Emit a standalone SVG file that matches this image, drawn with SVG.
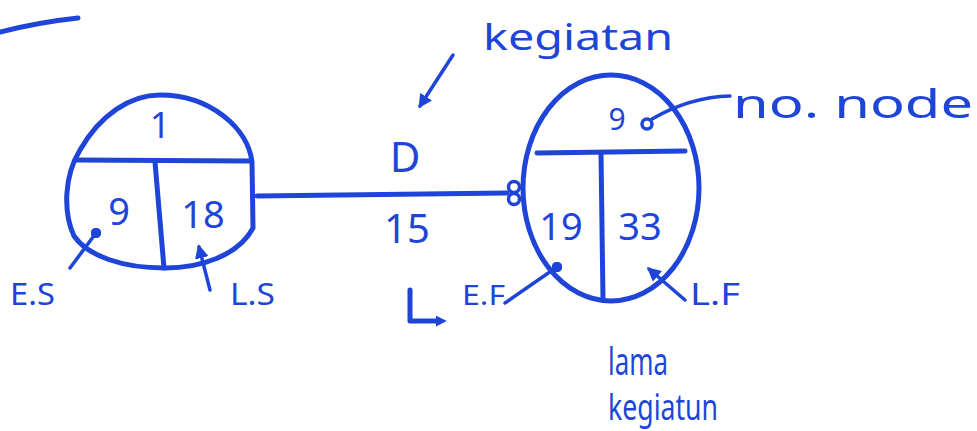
<svg xmlns="http://www.w3.org/2000/svg" width="977" height="431" viewBox="0 0 977 431">
<style>
.ln{fill:none;stroke:#1f45d8;stroke-width:5;stroke-linecap:round;stroke-linejoin:round}
.th{fill:none;stroke:#1f45d8;stroke-width:3.5;stroke-linecap:round;stroke-linejoin:round}
.t{fill:#1f45d8;font-family:"Noto Sans","DejaVu Sans",sans-serif}
</style>
<defs>
<marker id="ah" viewBox="0 0 10 10" refX="8" refY="5" markerWidth="4" markerHeight="4" orient="auto">
<path d="M0,0 L10,5 L0,10 Z" fill="#1f45d8"/>
</marker>
<marker id="ahs" viewBox="0 0 10 10" refX="2" refY="5" markerWidth="2.2" markerHeight="2.2" orient="auto">
<path d="M0,0 L10,5 L0,10 Z" fill="#1f45d8"/>
</marker>
<marker id="dot" viewBox="0 0 10 10" refX="5" refY="5" markerWidth="3" markerHeight="3">
<circle cx="5" cy="5" r="5" fill="#1f45d8"/>
</marker>
</defs>
<rect width="977" height="431" fill="#ffffff"/>
<path class="ln" d="M0,32 Q40,22 78,18"/>
<g id="node1">
<path class="ln" d="M160,95 C210,95 248,128 252,162 L253,228 C238,256 200,268 165,268 C122,268 88,256 74,236 C63,212 64,176 80,150 C100,115 130,95 160,95 Z"/>
<path class="ln" d="M77,160 L250,161"/>
<path class="ln" d="M155,162 L164,268"/>
<text class="t" x="160" y="138" font-size="36" text-anchor="middle">1</text>
<text class="t" x="119" y="225" font-size="38" text-anchor="middle">9</text>
<text class="t" x="203" y="228" font-size="38" text-anchor="middle">18</text>
</g>
<g id="node2">
<ellipse class="ln" cx="611" cy="188" rx="88" ry="113"/>
<path class="ln" d="M537,153 L685,151"/>
<path class="ln" d="M601,153 L603,300"/>
<text class="t" x="617" y="130" font-size="30" text-anchor="middle">9</text>
<circle class="th" cx="647" cy="124" r="5"/>
<text class="t" x="561" y="240" font-size="38" text-anchor="middle">19</text>
<text class="t" x="640" y="240" font-size="38" text-anchor="middle">33</text>
</g>
<g id="connectors">
<path class="ln" d="M257,196 L507,193"/>
<circle class="th" cx="514" cy="187" r="5.5"/>
<circle class="th" cx="514" cy="199" r="5.5"/>
<path class="th" d="M453,55 L420,106" marker-end="url(#ah)"/>
<path class="th" d="M730,96 Q690,97 652,119"/>
<path class="th" d="M70,268 L96,233" marker-end="url(#dot)"/>
<path class="th" d="M210,290 L199,247" marker-end="url(#ah)"/>
<path class="th" d="M505,303 L557,267" marker-end="url(#dot)"/>
<path class="th" d="M685,300 L649,269" marker-end="url(#ah)"/>
<path class="ln" d="M410,290 L410,321 L438,321" marker-end="url(#ahs)"/>
</g>
<g id="labels">
<text class="t" x="483" y="50" font-size="36" textLength="190" lengthAdjust="spacingAndGlyphs">kegiatan</text>
<text class="t" x="733" y="118" font-size="40" textLength="240" lengthAdjust="spacingAndGlyphs">no. node</text>
<text class="t" x="405" y="172" font-size="42" text-anchor="middle">D</text>
<text class="t" x="407" y="243" font-size="40" text-anchor="middle">15</text>
<text class="t" x="10" y="305" font-size="30" textLength="45" lengthAdjust="spacingAndGlyphs">E.S</text>
<text class="t" x="230" y="305" font-size="30" textLength="45" lengthAdjust="spacingAndGlyphs">L.S</text>
<text class="t" x="462" y="305" font-size="28" textLength="43" lengthAdjust="spacingAndGlyphs">E.F</text>
<text class="t" x="690" y="305" font-size="30" textLength="50" lengthAdjust="spacingAndGlyphs">L.F</text>
<text class="t" x="608" y="375" font-size="38" textLength="60" lengthAdjust="spacingAndGlyphs">lama</text>
<text class="t" x="608" y="420" font-size="36" textLength="110" lengthAdjust="spacingAndGlyphs">kegiatun</text>
</g>
</svg>
